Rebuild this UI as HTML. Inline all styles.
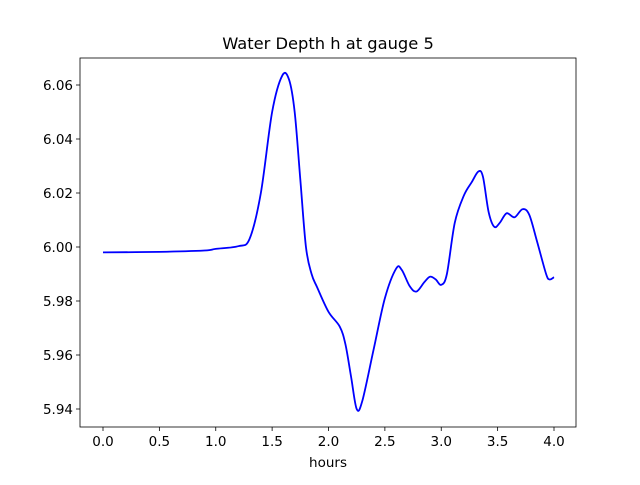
<!DOCTYPE html>
<html><head><meta charset="utf-8"><style>
body{margin:0;background:#fff}
svg text{font-family:"DejaVu Sans","Liberation Sans",sans-serif;font-size:13.5px;fill:#000}
</style></head><body>
<svg width="640" height="480">
<rect x="0" y="0" width="640" height="480" fill="#fff"/>
<text x="328" y="49" text-anchor="middle" style="font-size:16.3px">Water Depth h at gauge 5</text>
<g id="xt"></g>
<g id="yt"></g>
<path id="line" fill="none" stroke="#0000ff" stroke-width="1.8"/>
<rect x="80" y="58" width="496" height="369" fill="none" stroke="#000" stroke-width="0.8"/>
<text x="328" y="467" text-anchor="middle">hours</text>
</svg>
<script>
const hours=[0,0.5,0.9,1.0,1.2,1.3,1.4,1.5,1.59,1.65,1.7,1.75,1.8,1.85,1.9,2.0,2.1,2.15,2.2,2.25,2.3,2.4,2.5,2.6,2.65,2.72,2.78,2.85,2.9,2.95,3.0,3.05,3.12,3.2,3.27,3.33,3.37,3.42,3.47,3.52,3.58,3.65,3.72,3.78,3.85,3.93,3.96,4.0];
const depth=[5.998,5.9982,5.9987,5.9993,6.0003,6.003,6.02,6.05,6.0635,6.062,6.05,6.025,6.0,5.99,5.985,5.976,5.9705,5.964,5.952,5.94,5.943,5.962,5.981,5.992,5.9915,5.9855,5.9835,5.987,5.989,5.988,5.986,5.99,6.009,6.019,6.024,6.028,6.026,6.013,6.0075,6.009,6.0125,6.011,6.014,6.012,6.002,5.99,5.988,5.9888];
const xTicks=[0,0.5,1.0,1.5,2.0,2.5,3.0,3.5,4.0];
const yTicks=[5.94,5.96,5.98,6.00,6.02,6.04,6.06];
const X=v=>103+v*112.75, Y=v=>409-(v-5.94)*2700;
const ns="http://www.w3.org/2000/svg";
const xt=document.getElementById('xt'), yt=document.getElementById('yt');
xTicks.forEach(t=>{
 const l=document.createElementNS(ns,'line');
 
 
 l.setAttribute('x1',X(t));l.setAttribute('x2',X(t));l.setAttribute('y1',427);l.setAttribute('y2',431);l.setAttribute('stroke','#000');l.setAttribute('stroke-width','0.8');xt.appendChild(l);
 const s=document.createElementNS(ns,'text');
 
 
 s.setAttribute('x',X(t));s.setAttribute('y',446);s.setAttribute('text-anchor','middle');s.textContent=t.toFixed(1);xt.appendChild(s);
});
yTicks.forEach(t=>{
 const l=document.createElementNS(ns,'line');
 
 
 l.setAttribute('x1',76);l.setAttribute('x2',80);l.setAttribute('y1',Y(t));l.setAttribute('y2',Y(t));l.setAttribute('stroke','#000');l.setAttribute('stroke-width','0.8');yt.appendChild(l);
 const s=document.createElementNS(ns,'text');
 
 
 s.setAttribute('x',73);s.setAttribute('y',Y(t)+5);s.setAttribute('text-anchor','end');s.textContent=t.toFixed(2);yt.appendChild(s);
});
const P=hours.map((h,i)=>[X(h),Y(depth[i])]);
let d='M'+P[0][0]+','+P[0][1];
for(let i=0;i<P.length-1;i++){
 const p0=P[Math.max(0,i-1)],p1=P[i],p2=P[i+1],p3=P[Math.min(P.length-1,i+2)];
 const c1=[p1[0]+(p2[0]-p0[0])/6,p1[1]+(p2[1]-p0[1])/6];
 const c2=[p2[0]-(p3[0]-p1[0])/6,p2[1]-(p3[1]-p1[1])/6];
 d+=' C'+c1[0]+','+c1[1]+' '+c2[0]+','+c2[1]+' '+p2[0]+','+p2[1];
}
document.getElementById('line').setAttribute('d',d);
</script>
</body></html>
